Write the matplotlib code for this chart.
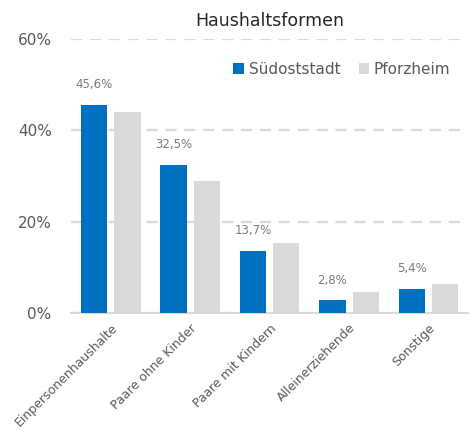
import numpy as np
import matplotlib.pyplot as plt
from matplotlib.ticker import FuncFormatter

kategorien = ['Einpersonenhaushalte', 'Paare ohne Kinder', 'Paare mit Kindern',
              'Alleinerziehende', 'Sonstige']
suedoststadt = [45.6, 32.5, 13.7, 2.8, 5.4]
pforzheim = [44.0, 28.9, 15.3, 4.6, 6.3]

blau = '#0070C0'
grau = '#D9D9D9'
text_grau = '#595959'

plt.rcParams['font.family'] = ['DejaVu Sans']

fig = plt.figure(figsize=(4.74, 4.32), dpi=100)
ax = fig.add_axes([0.150, 0.275, 0.838, 0.635])

x = np.arange(len(kategorien))
breite = 0.33
ax.bar(x - 0.21, suedoststadt, breite, color=blau, label='Südoststadt', zorder=3)
ax.bar(x + 0.21, pforzheim, breite, color=grau, label='Pforzheim', zorder=3)

# Werte nur fuer die Suedoststadt beschriften
for xi, wert in zip(x, suedoststadt):
    ax.text(xi - 0.21, wert + 3.0, f'{wert:.1f}%'.replace('.', ','),
            ha='center', va='bottom', fontsize=8.5, color='#7a7a7a')

ax.set_xlim(-0.5, len(kategorien) - 0.5)
ax.set_ylim(0, 60)
ax.set_yticks([0, 20, 40, 60])
ax.yaxis.set_major_formatter(FuncFormatter(lambda v, p: f'{v:.0f}%'))
ax.grid(axis='y', color=grau, linestyle=(0, (5, 3.5)), linewidth=1.6, zorder=0)

ax.set_xticks(x)
ax.set_xticklabels(kategorien, rotation=45, ha='right', rotation_mode='anchor',
                   fontsize=9, color=text_grau)
ax.tick_params(axis='x', length=0, pad=6)
ax.tick_params(axis='y', length=0, pad=14, labelsize=11, colors=text_grau)

for s in ['top', 'right', 'left']:
    ax.spines[s].set_visible(False)
ax.spines['bottom'].set_color(grau)
ax.spines['bottom'].set_linewidth(1.5)

ax.set_title('Haushaltsformen', fontsize=12.5, color='#262626', pad=9)

ax.legend(loc='center right', bbox_to_anchor=(0.99, 0.89), ncol=2, frameon=False,
          fontsize=11, handlelength=0.7, handleheight=0.7, handletextpad=0.3,
          columnspacing=1.2, labelcolor=text_grau)

fig.savefig('out.png', dpi=100, facecolor='white')
